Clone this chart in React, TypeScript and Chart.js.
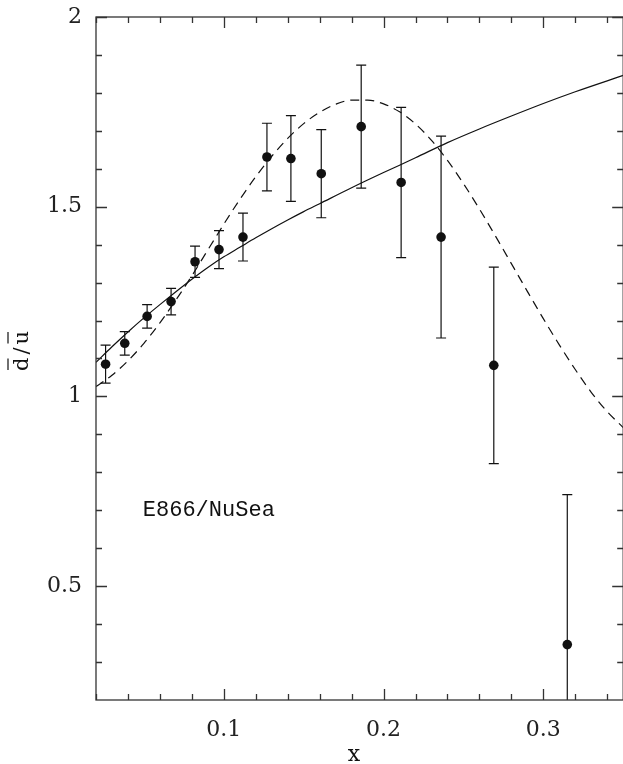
import React, { useEffect, useRef } from 'react';
import { Chart, registerables } from 'chart.js';

Chart.register(...registerables);

// E866/NuSea measurement of dbar/ubar
const xData = [0.026, 0.038, 0.052, 0.067, 0.082, 0.097, 0.112, 0.127, 0.142, 0.161, 0.186, 0.211, 0.236, 0.269, 0.315];
const ratioData = [1.085, 1.140, 1.211, 1.250, 1.355, 1.387, 1.420, 1.631, 1.627, 1.587, 1.711, 1.564, 1.420, 1.082, 0.346];
const ratioErr = [0.050, 0.031, 0.031, 0.035, 0.041, 0.050, 0.063, 0.089, 0.113, 0.116, 0.162, 0.198, 0.266, 0.259, 0.395];

// solid model curve
const solidX = [0.02, 0.03, 0.04, 0.05, 0.06, 0.07, 0.08, 0.09, 0.10, 0.11, 0.12, 0.13, 0.14, 0.15, 0.16, 0.18, 0.20, 0.22, 0.24, 0.26, 0.28, 0.30, 0.32, 0.35];
const solidY = [1.090, 1.131, 1.170, 1.207, 1.242, 1.276, 1.309, 1.340, 1.368, 1.393, 1.418, 1.442, 1.465, 1.487, 1.508, 1.550, 1.590, 1.629, 1.669, 1.705, 1.739, 1.772, 1.803, 1.846];

// dashed model curve
const dashedX = [0.02, 0.03, 0.04, 0.05, 0.06, 0.07, 0.08, 0.09, 0.10, 0.11, 0.12, 0.13, 0.14, 0.15, 0.16, 0.17, 0.18, 0.19, 0.20, 0.21, 0.22, 0.23, 0.24, 0.25, 0.26, 0.27, 0.28, 0.29, 0.30, 0.31, 0.32, 0.33, 0.34, 0.35];
const dashedY = [1.026, 1.056, 1.094, 1.140, 1.194, 1.254, 1.318, 1.386, 1.454, 1.519, 1.579, 1.633, 1.680, 1.719, 1.749, 1.770, 1.781, 1.781, 1.771, 1.750, 1.718, 1.675, 1.622, 1.561, 1.494, 1.423, 1.350, 1.277, 1.205, 1.136, 1.071, 1.011, 0.960, 0.918];

// axes
const xMin = 0.02;
const xMax = 0.35;
const yMin = 0.2;
const yMax = 2.0;
const xTicks = [0.02, 0.04, 0.06, 0.08, 0.10, 0.12, 0.14, 0.16, 0.18, 0.20, 0.22, 0.24, 0.26, 0.28, 0.30, 0.32, 0.34];
const xLabelValues = [0.1, 0.2, 0.3];
const xLabels = ['0.1', '0.2', '0.3'];
const yTicks = [0.3, 0.4, 0.5, 0.6, 0.7, 0.8, 0.9, 1.0, 1.1, 1.2, 1.3, 1.4, 1.5, 1.6, 1.7, 1.8, 1.9, 2.0];
const yLabelValues = [0.5, 1.0, 1.5, 2.0];
const yLabels = ['0.5', '1', '1.5', '2'];

const annotationText = 'E866/NuSea';
const annotationAt = { x: 0.0493, y: 0.70 };

const labelFor = (v: number, values: number[], labels: string[]) => {
  const i = values.findIndex((t) => Math.abs(t - v) < 1e-9);
  return i >= 0 ? labels[i] : '';
};

const INK = '#111';
const AXIS = '#333';

const framePlugin = {
  id: 'framePlugin',
  afterDatasetsDraw(chart: any) {
    const { ctx, chartArea, scales } = chart;
    const { left, right, top, bottom } = chartArea;
    const xs = scales.x;
    const ys = scales.y;

    // error bars
    ctx.save();
    ctx.beginPath();
    ctx.rect(left, top, right - left, bottom - top);
    ctx.clip();
    ctx.strokeStyle = INK;
    ctx.lineWidth = 1.2;
    xData.forEach((xv, i) => {
      const px = xs.getPixelForValue(xv);
      const pHi = ys.getPixelForValue(ratioData[i] + ratioErr[i]);
      const pLo = ys.getPixelForValue(ratioData[i] - ratioErr[i]);
      ctx.beginPath();
      ctx.moveTo(px, pHi);
      ctx.lineTo(px, pLo);
      ctx.moveTo(px - 5, pHi);
      ctx.lineTo(px + 5, pHi);
      ctx.moveTo(px - 5, pLo);
      ctx.lineTo(px + 5, pLo);
      ctx.stroke();
    });
    ctx.restore();

    // frame + inward ticks
    ctx.save();
    ctx.strokeStyle = AXIS;
    ctx.lineWidth = 1.3;
    ctx.strokeRect(left, top, right - left, bottom - top);
    ctx.beginPath();
    xTicks.forEach((v) => {
      const px = Math.round(xs.getPixelForValue(v)) + 0.5;
      const major = xLabelValues.some((t) => Math.abs(t - v) < 1e-9);
      const len = major ? 11 : 6;
      ctx.moveTo(px, bottom);
      ctx.lineTo(px, bottom - len);
      ctx.moveTo(px, top);
      ctx.lineTo(px, top + len);
    });
    yTicks.forEach((v) => {
      const py = Math.round(ys.getPixelForValue(v)) + 0.5;
      const major = yLabelValues.some((t) => Math.abs(t - v) < 1e-9);
      const len = major ? 11 : 6;
      ctx.moveTo(left, py);
      ctx.lineTo(left + len, py);
      ctx.moveTo(right, py);
      ctx.lineTo(right - len, py);
    });
    ctx.stroke();
    ctx.restore();

    // annotation
    ctx.save();
    ctx.fillStyle = INK;
    ctx.font = '22px "Liberation Mono", "DejaVu Sans Mono", monospace';
    ctx.textAlign = 'left';
    ctx.textBaseline = 'middle';
    ctx.fillText(annotationText, xs.getPixelForValue(annotationAt.x), ys.getPixelForValue(annotationAt.y));
    ctx.restore();

    // x axis title
    ctx.save();
    ctx.fillStyle = INK;
    ctx.font = '22px "DejaVu Serif", serif';
    ctx.textAlign = 'center';
    ctx.textBaseline = 'alphabetic';
    ctx.fillText('x', 354, 761);
    ctx.restore();

    // y axis title: d-bar / u-bar, rotated
    ctx.save();
    ctx.fillStyle = INK;
    ctx.strokeStyle = INK;
    ctx.lineWidth = 1.2;
    ctx.font = '21px "DejaVu Serif", serif';
    ctx.translate(28, 351);
    ctx.rotate(-Math.PI / 2);
    ctx.textBaseline = 'alphabetic';
    ctx.textAlign = 'left';
    const gap = 3;
    const wd = ctx.measureText('d').width;
    const ws = ctx.measureText('/').width;
    const wu = ctx.measureText('u').width;
    const total = wd + ws + wu + 2 * gap;
    let cx = -total / 2;
    ctx.fillText('d', cx, 0);
    ctx.beginPath();
    ctx.moveTo(cx + 1, -20);
    ctx.lineTo(cx + wd - 1, -20);
    cx += wd + gap;
    ctx.fillText('/', cx, 0);
    cx += ws + gap;
    ctx.fillText('u', cx, 0);
    ctx.moveTo(cx + 1, -20);
    ctx.lineTo(cx + wu - 1, -20);
    ctx.stroke();
    ctx.restore();
  },
};

export default function App() {
  const canvasRef = useRef<HTMLCanvasElement | null>(null);

  useEffect(() => {
    if (!canvasRef.current) return;
    const tickFont = { family: '"DejaVu Serif", serif', size: 22 };
    const chart = new Chart(canvasRef.current, {
      type: 'scatter',
      data: {
        datasets: [
          {
            label: 'dashed',
            data: dashedX.map((x, i) => ({ x, y: dashedY[i] })),
            showLine: true,
            borderColor: INK,
            borderWidth: 1.2,
            borderDash: [9, 6],
            pointRadius: 0,
            cubicInterpolationMode: 'monotone',
          },
          {
            label: 'solid',
            data: solidX.map((x, i) => ({ x, y: solidY[i] })),
            showLine: true,
            borderColor: INK,
            borderWidth: 1.2,
            pointRadius: 0,
            cubicInterpolationMode: 'monotone',
          },
          {
            label: 'E866/NuSea',
            data: xData.map((x, i) => ({ x, y: ratioData[i] })),
            showLine: false,
            pointRadius: 4.8,
            pointBackgroundColor: INK,
            pointBorderColor: INK,
            pointBorderWidth: 0,
          },
        ],
      } as any,
      options: {
        responsive: false,
        animation: false,
        events: [],
        layout: { padding: { top: 17, right: 2, left: 0, bottom: 0 } },
        plugins: {
          legend: { display: false },
          tooltip: { enabled: false },
          title: { display: false },
        },
        scales: {
          x: {
            type: 'linear',
            min: xMin,
            max: xMax,
            grid: { display: false, drawTicks: false },
            border: { display: false },
            afterBuildTicks: (s: any) => {
              s.ticks = xTicks.map((v) => ({ value: v }));
            },
            afterFit: (s: any) => {
              s.height = 64;
              s.paddingLeft = 0;
              s.paddingRight = 0;
            },
            ticks: {
              autoSkip: false,
              maxRotation: 0,
              minRotation: 0,
              padding: 17,
              color: '#222',
              font: tickFont,
              callback: (v: any) => labelFor(Number(v), xLabelValues, xLabels),
            },
          },
          y: {
            type: 'linear',
            min: yMin,
            max: yMax,
            grid: { display: false, drawTicks: false },
            border: { display: false },
            afterBuildTicks: (s: any) => {
              s.ticks = yTicks.map((v) => ({ value: v }));
            },
            afterFit: (s: any) => {
              s.width = 96;
              s.paddingTop = 0;
              s.paddingBottom = 0;
            },
            ticks: {
              autoSkip: false,
              padding: 14,
              color: '#222',
              font: tickFont,
              callback: (v: any) => labelFor(Number(v), yLabelValues, yLabels),
            },
          },
        },
      } as any,
      plugins: [framePlugin],
    });
    return () => chart.destroy();
  }, []);

  return (
    <div style={{ position: 'absolute', left: 0, top: 0, width: 623, height: 764, overflow: 'hidden', background: '#fff' }}>
      <canvas ref={canvasRef} width={628} height={764} style={{ display: 'block' }} />
    </div>
  );
}
